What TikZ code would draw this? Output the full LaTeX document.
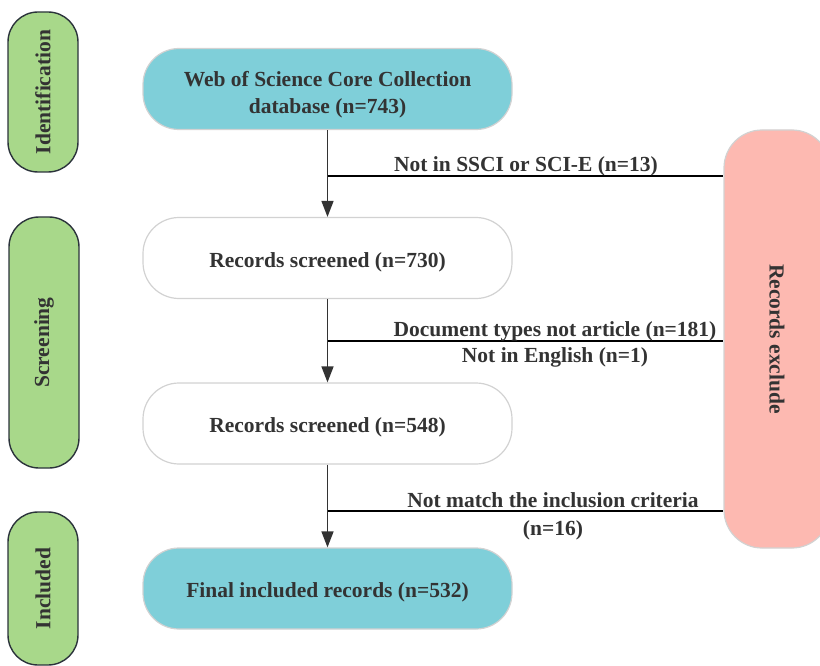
\documentclass[tikz,border=0pt]{standalone}
\usepackage{fontspec}
\setmainfont{Liberation Serif}
\usetikzlibrary{arrows.meta}
\definecolor{txt}{HTML}{333333}
\definecolor{cyanfill}{HTML}{7FCFD9}
\definecolor{greenfill}{HTML}{A8D88A}
\definecolor{pinkfill}{HTML}{FDB9B1}
\definecolor{softgray}{HTML}{D2D2D2}
\definecolor{darkedge}{HTML}{2B333B}
\newcommand{\lowertext}[2]{\raisebox{0pt}[\dimexpr\height+#1\relax][\depth]{\begin{tabular}{@{}c@{}}#2\end{tabular}}}
\begin{document}
\begin{tikzpicture}[x=1pt,y=-1pt,
  every node/.style={font=\fontsize{21.5}{27}\selectfont\bfseries, text=txt},
  mainbox/.style={draw=softgray, line width=1.2pt, rounded corners=36pt,
    minimum width=369pt, minimum height=81pt, align=center, inner sep=0pt},
  cyanbox/.style={mainbox, fill=cyanfill},
  whitebox/.style={mainbox, fill=white},
  phasebox/.style={draw=darkedge, line width=1.4pt, fill=greenfill, rounded corners=30pt,
    rotate=90, minimum height=70pt, inner sep=0pt},
  lbl/.style={inner sep=0pt, align=center},
  conn/.style={draw=black, line width=1.5pt},
  arr/.style={draw=txt, line width=1.5pt, -{Triangle[length=16pt,width=12pt]}}
]
\useasboundingbox (0,0) rectangle (820,666);

% phase boxes
\node[phasebox, minimum width=160pt] (ident) at (43,92) {Identification};
\node[phasebox, minimum width=251pt] (screen) at (44,342.5) {Screening};
\node[phasebox, minimum width=153pt] (incl) at (43,588.5) {Included};

% exclusion box
\node[draw=softgray, line width=1.2pt, fill=pinkfill, rounded corners=38pt,
  minimum width=418pt, minimum height=106pt, rotate=-90, inner sep=0pt]
  (excl) at (777,339) {Records exclude};

% main boxes
\node[cyanbox] (wos) at (327.5,89) {\lowertext{12pt}{Web of Science Core Collection\\database (n=743)}};
\node[whitebox] (r730) at (327.5,258) {\lowertext{8pt}{Records screened (n=730)}};
\node[whitebox] (r548) at (327.5,423.5) {\lowertext{8pt}{Records screened (n=548)}};
\node[cyanbox] (final) at (327.5,588.5) {\lowertext{8pt}{Final included records (n=532)}};

% branch points
\coordinate (b1) at (328,176);
\coordinate (b2) at (328,341);
\coordinate (b3) at (328,511);

% arrows
\draw[arr] (wos.south) -- (r730.north);
\draw[arr] (r730.south) -- (r548.north);
\draw[arr] (r548.south) -- (final.north);

% exclusion connectors
\draw[conn] (b1) -- (b1 -| excl.south);
\draw[conn, line width=2.8pt] (b2) -- (b2 -| excl.south);
\draw[conn] (b3) -- (b3 -| excl.south);

% labels
\node[lbl, anchor=base] (l1) at (526,172) {Not in SSCI or SCI-E (n=13)};
\node[lbl, anchor=base] (l2a) at (555,336) {Document types not article (n=181)};
\node[lbl, anchor=base] (l2b) at (555,362) {Not in English (n=1)};
\node[lbl, anchor=base] (l3a) at (553,507) {Not match the inclusion criteria};
\node[lbl, anchor=base] (l3b) at (553,535) {(n=16)};
\end{tikzpicture}
\end{document}
